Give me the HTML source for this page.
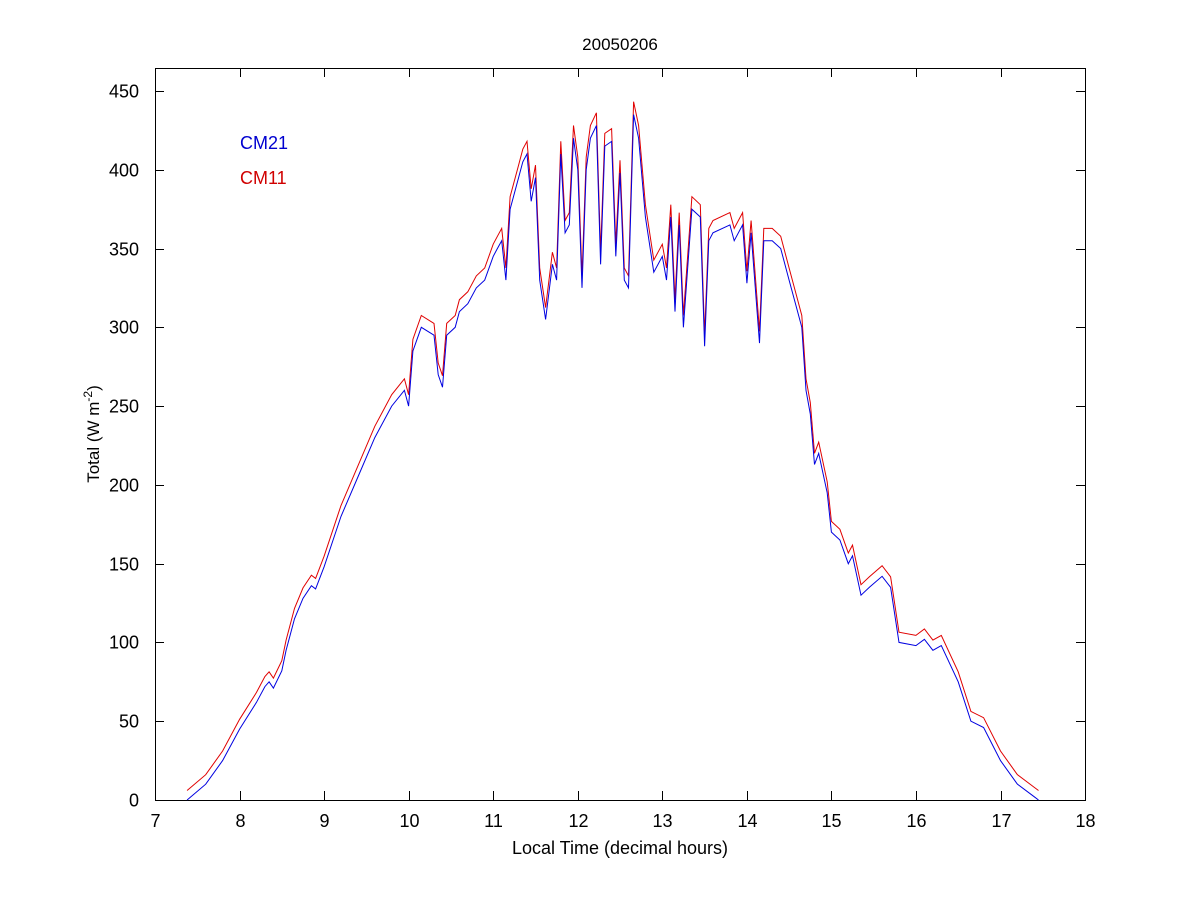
<!DOCTYPE html>
<html><head><style>body{margin:0;background:#fff}svg text{font-family:"Liberation Sans",sans-serif}</style></head>
<body>
<svg id="s" width="1200" height="900" xmlns="http://www.w3.org/2000/svg">
<rect width="1200" height="900" fill="#fff"/>
<rect x="155.5" y="68.5" width="930" height="732" fill="none" stroke="#000" stroke-width="1"/>
<g id="ticks" stroke="#000"></g>
<g id="labels" font-size="18" fill="#000"></g>
<text x="620" y="50" font-size="17" text-anchor="middle">20050206</text>
<text x="620" y="854" font-size="18" text-anchor="middle">Local Time (decimal hours)</text>
<text transform="translate(99,434) rotate(-90)" font-size="17" text-anchor="middle">Total (W m<tspan dy="-7" font-size="12">-2</tspan><tspan dy="7">)</tspan></text>
<text x="240" y="149" font-size="18" fill="#0000d0">CM21</text>
<text x="240" y="184" font-size="18" fill="#d00000">CM11</text>
<polyline id="r" fill="none" stroke="#e00000" stroke-width="1"/>
<polyline id="b" fill="none" stroke="#0000e0" stroke-width="1"/>
</svg>
<script>
var X=function(h){return 155+(h-7)*84.55},Y=function(v){return 800-v*1.5756};
var t=document.getElementById('ticks'),l=document.getElementById('labels'),ns='http://www.w3.org/2000/svg';
function ln(a,b,c,d){var e=document.createElementNS(ns,'line');e.setAttribute('x1',a);e.setAttribute('y1',b);e.setAttribute('x2',c);e.setAttribute('y2',d);t.appendChild(e);}
function tx(x,y,s,a){var e=document.createElementNS(ns,'text');e.setAttribute('x',x);e.setAttribute('y',y);e.setAttribute('text-anchor',a);e.textContent=s;l.appendChild(e);}
for(var h=7;h<=18;h++){var x=Math.round(X(h))+.5;ln(x,800,x,791);ln(x,68,x,77);tx(x,827,h,'middle');}
for(var v=0;v<=450;v+=50){var y=Math.round(Y(v))+.5;ln(155,y,164,y);ln(1085,y,1076,y);tx(139,y+6,v,'end');}
var d=[7.38,0,7.6,10,7.8,25,8.0,45,8.2,62,8.3,72,8.35,75,8.4,71,8.5,82,8.55,95,8.65,115,8.75,128,8.85,136,8.9,134,9.0,148,9.2,180,9.4,205,9.6,230,9.8,250,9.95,260,10.0,250,10.05,285,10.15,300,10.3,295,10.35,270,10.4,262,10.45,295,10.55,300,10.6,310,10.7,315,10.8,325,10.9,330,11.0,345,11.05,350,11.1,355,11.15,330,11.2,375,11.3,395,11.35,405,11.4,410,11.45,380,11.5,395,11.55,330,11.62,305,11.7,340,11.75,330,11.8,410,11.85,360,11.9,365,11.95,420,12.0,400,12.05,325,12.1,400,12.15,420,12.22,428,12.27,340,12.32,415,12.4,418,12.45,345,12.5,398,12.55,330,12.6,325,12.66,435,12.72,420,12.8,370,12.9,335,13.0,345,13.05,330,13.1,370,13.15,310,13.2,365,13.25,300,13.35,375,13.45,370,13.5,288,13.55,355,13.6,360,13.8,365,13.85,355,13.95,365,14.0,328,14.05,360,14.15,290,14.2,355,14.3,355,14.4,350,14.5,330,14.6,310,14.65,300,14.7,260,14.75,245,14.8,213,14.85,220,14.95,195,15.0,170,15.1,165,15.2,150,15.25,155,15.35,130,15.45,135,15.6,142,15.7,135,15.8,100,16.0,98,16.1,102,16.2,95,16.3,98,16.5,75,16.65,50,16.8,46,17.0,25,17.2,10,17.4,2,17.45,0];
var b=[],r=[];for(var i=0;i<d.length;i+=2){b.push(X(d[i]).toFixed(1)+','+Y(d[i+1]).toFixed(1));r.push(X(d[i]).toFixed(1)+','+Y(d[i+1]*1.005+6).toFixed(1));}
document.getElementById('b').setAttribute('points',b.join(' '));
document.getElementById('r').setAttribute('points',r.join(' '));
</script>
</body></html>
